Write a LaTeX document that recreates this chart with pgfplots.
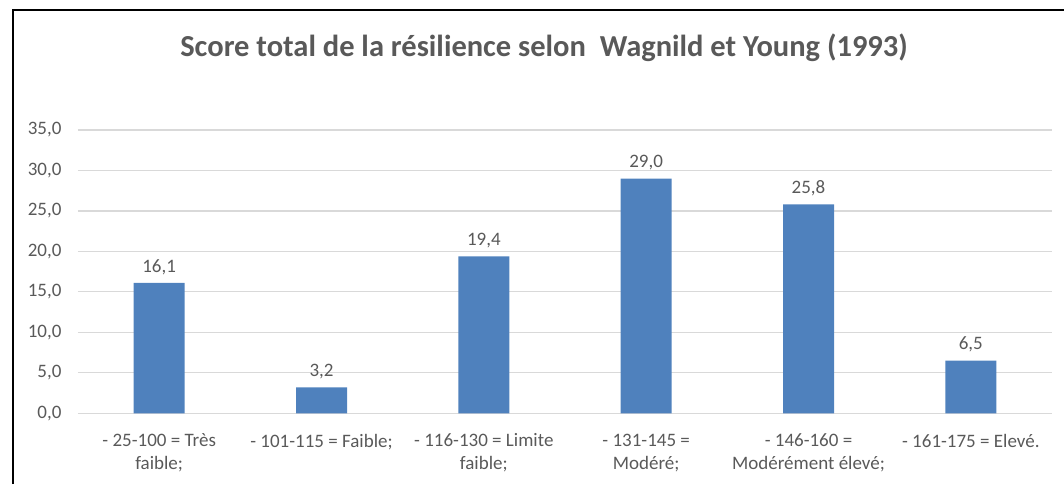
\documentclass[border=0pt]{standalone}
\usepackage{fontspec}
\setmainfont{Carlito}
\usepackage{pgfplots}
\pgfplotsset{compat=1.18}
\definecolor{barblue}{HTML}{4F81BD}
\definecolor{txt}{HTML}{595959}
\definecolor{gridc}{HTML}{D9D9D9}
\begin{document}
\begin{tikzpicture}[x=1pt,y=1pt]
\path[use as bounding box] (0,0) rectangle (1064,484);
\draw[line width=2pt] (13,0) -- (13,474) -- (1064,474);
\node[font=\fontsize{30.5}{36}\selectfont\bfseries, text=txt] at (544,436) {Score total de la résilience selon\ \ Wagnild et Young (1993)};
\begin{axis}[
  at={(78pt,70.7pt)}, anchor=south west, scale only axis,
  width=974pt, height=283.3pt,
  xmin=-0.5, xmax=5.5, ymin=0, ymax=35,
  ytick={0,5,...,35}, xtick={0,1,2,3,4,5},
  xticklabels={{- 25-100 = Très\\faible;},{- 101-115 = Faible;},{- 116-130 = Limite\\faible;},{- 131-145 =\\Modéré;},{- 146-160 =\\Modérément élevé;},{- 161-175 = Elevé.}},
  xticklabel style={align=center, font=\fontsize{19}{23}\selectfont, text=txt, yshift=-17pt, anchor=north},
  yticklabel style={font=\fontsize{19}{23}\selectfont, text=txt, xshift=-13pt},
  /pgf/number format/fixed, /pgf/number format/fixed zerofill,
  /pgf/number format/precision=1, /pgf/number format/use comma,
  /pgf/number format/assume math mode=true,
  ymajorgrids, major grid style={gridc, line width=1.2pt},
  axis line style={draw=none},
  major tick length=0pt,
  enlargelimits=false,
  clip=false,
  nodes near coords,
  nodes near coords style={font=\fontsize{19}{23}\selectfont, text=txt, yshift=5pt},
]
\addplot[ybar, bar width=51pt, fill=barblue, draw=none] coordinates {(0,16.1) (1,3.2) (2,19.4) (3,29.0) (4,25.8) (5,6.5)};
\end{axis}
\end{tikzpicture}
\end{document}
